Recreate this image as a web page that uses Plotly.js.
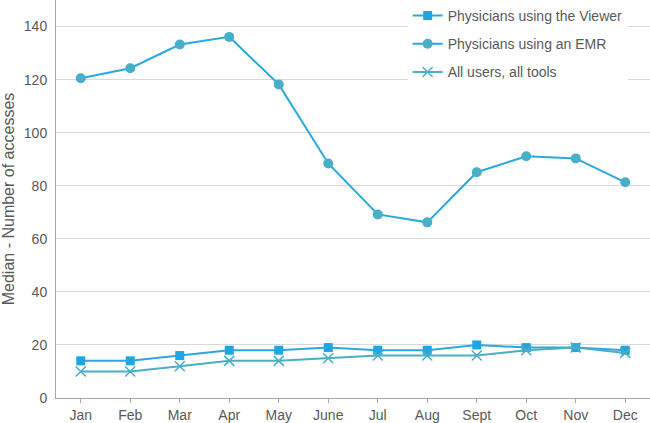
<!DOCTYPE html>
<html>
<head>
<meta charset="utf-8">
<script src="https://cdn.plot.ly/plotly-3.0.1.min.js"></script>
<style>html,body{margin:0;padding:0;background:#fff}#chart{width:650px;height:423px}</style>
</head>
<body>
<div id="chart"></div>
<script>
const months = ["Jan","Feb","Mar","Apr","May","June","Jul","Aug","Sept","Oct","Nov","Dec"];
const viewer = [14, 14, 16, 18, 18, 19, 18, 18, 20, 19, 19, 18];
const emr = [120.5, 124.3, 133.2, 136.1, 118.2, 88.4, 69.2, 66.2, 85.1, 91.1, 90.3, 81.3];
const allUsers = [10, 10, 12, 14, 14, 15, 16, 16, 16, 18, 19, 17];
const yTicks = [0, 20, 40, 60, 80, 100, 120, 140];

const gray = "#595959";
const traces = [
  {x: months, y: viewer, name: "Physicians using the Viewer", mode: "lines+markers", legendgroup: "a",
   line: {color: "#2aa8e0", width: 2}, marker: {symbol: "square", size: 9, color: "#1ea6e2"}},
  {x: months, y: emr, name: "Physicians using an EMR", mode: "lines+markers", legendgroup: "b",
   line: {color: "#27a9e1", width: 2}, marker: {symbol: "circle", size: 10, color: "#4aaec8"}},
  {x: months, y: allUsers, name: "All users, all tools", mode: "lines+markers", legendgroup: "c",
   line: {color: "#4aaec8", width: 2}, marker: {symbol: "x-thin-open", size: 10, color: "#4aaec8", line: {width: 1.5, color: "#4aaec8"}}}
];
const n = months.length;
const layout = {
  width: 650, height: 423,
  margin: {l: 56, r: 0, t: 0, b: 25},
  paper_bgcolor: "#fff", plot_bgcolor: "#fff",
  font: {family: "Liberation Sans, Arial, sans-serif", color: gray, size: 14},
  showlegend: true,
  legend: {x: 0.592, y: 1, xanchor: "left", yanchor: "top", bgcolor: "#fff",
    font: {size: 14, color: gray}, traceorder: "grouped", tracegroupgap: 7},
  xaxis: {type: "category", range: [-0.5, n - 0.5], showgrid: false, zeroline: false,
    showline: true, linecolor: "#a6a6a6", linewidth: 1,
    ticks: "outside", ticklen: 4, tickcolor: "#a6a6a6", tickson: "labels",
    tickfont: {size: 14, color: gray}},
  xaxis2: {overlaying: "x", range: [-0.5, n - 0.5], tickvals: Array.from({length: n + 1}, (_, i) => i - 0.5),
    showticklabels: false, ticks: "outside", ticklen: 4, tickcolor: "#a6a6a6", showgrid: false, zeroline: false, showline: false, side: "bottom"},
  xaxis3: {overlaying: "x", range: [-0.5, n - 0.5], tickvals: Array.from({length: n}, (_, i) => i),
    showticklabels: false, ticks: "inside", ticklen: 4, tickcolor: "#a6a6a6", showgrid: false, zeroline: false, showline: false, side: "bottom"},
  yaxis: {range: [0, 150], tickvals: yTicks, showgrid: true, gridcolor: "#d9d9d9", gridwidth: 1,
    zeroline: false, showline: true, linecolor: "#a6a6a6", ticks: "", ticklen: 0,
    tickfont: {size: 14, color: gray}, ticklabelstandoff: 5,
    title: {text: "Median - Number of accesses", font: {size: 16, color: gray}, standoff: 8}}
};
Plotly.newPlot("chart", traces, layout, {displayModeBar: false, staticPlot: true});
</script>
</body>
</html>
